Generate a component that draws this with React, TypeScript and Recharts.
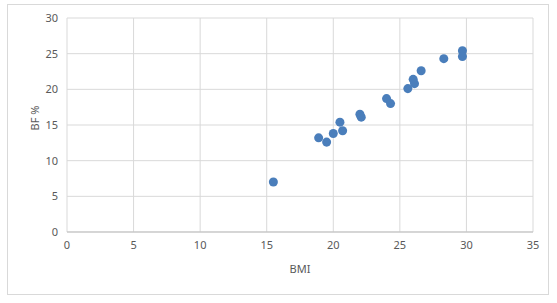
import { ScatterChart, Scatter, XAxis, YAxis, CartesianGrid } from "recharts";

const BMI = [15.5, 18.9, 19.5, 20.0, 20.5, 20.7, 22.0, 22.1, 24.0, 24.3, 25.6, 26.0, 26.1, 26.6, 28.3, 29.7, 29.7];
const BF = [7.0, 13.2, 12.6, 13.8, 15.4, 14.2, 16.5, 16.1, 18.7, 18.0, 20.1, 21.4, 20.8, 22.6, 24.3, 25.4, 24.6];
const X_TICKS = [0, 5, 10, 15, 20, 25, 30, 35];
const Y_TICKS = [0, 5, 10, 15, 20, 25, 30];

const data = BMI.map((x, i) => ({ bmi: x, bf: BF[i] }));

const tickStyle = { fontSize: 11, fill: "#595959", fontFamily: "Noto Sans" };

// y title sits a bit above the plot centre, like Excel does
const YTitle = () => (
  <text
    x={34}
    y={118}
    transform="rotate(-90 34 118)"
    textAnchor="middle"
    dominantBaseline="central"
    fontSize={11}
    fill="#595959"
    fontFamily="Noto Sans"
  >
    BF %
  </text>
);

export default function App() {
  return (
    <div style={{ position: "absolute", left: 0, top: 0, width: 557, height: 303, background: "#fff" }}>
      <div
        style={{
          position: "absolute",
          left: 7,
          top: 4,
          width: 540,
          height: 289,
          border: "1px solid #d9d9d9",
        }}
      />
      <ScatterChart
        width={557}
        height={303}
        margin={{ top: 18, right: 24, left: 0, bottom: 21 }}
        style={{ position: "absolute", left: 0, top: 0 }}
      >
        <CartesianGrid stroke="#d9d9d9" />
        <XAxis
          type="number"
          dataKey="bmi"
          domain={[0, 35]}
          ticks={X_TICKS}
          height={50}
          tick={tickStyle}
          tickLine={false}
          tickSize={0}
          tickMargin={9}
          axisLine={{ stroke: "#bfbfbf" }}
          label={{ value: "BMI", position: "insideBottom", offset: 9, fontSize: 11, fill: "#595959", fontFamily: "Noto Sans" }}
        />
        <YAxis
          type="number"
          dataKey="bf"
          domain={[0, 30]}
          ticks={Y_TICKS}
          width={67}
          tick={tickStyle}
          tickLine={false}
          tickSize={0}
          tickMargin={9}
          axisLine={false}
          label={{ content: <YTitle /> }}
        />
        <Scatter data={data} fill="#4a7ebb" isAnimationActive={false} />
      </ScatterChart>
    </div>
  );
}
